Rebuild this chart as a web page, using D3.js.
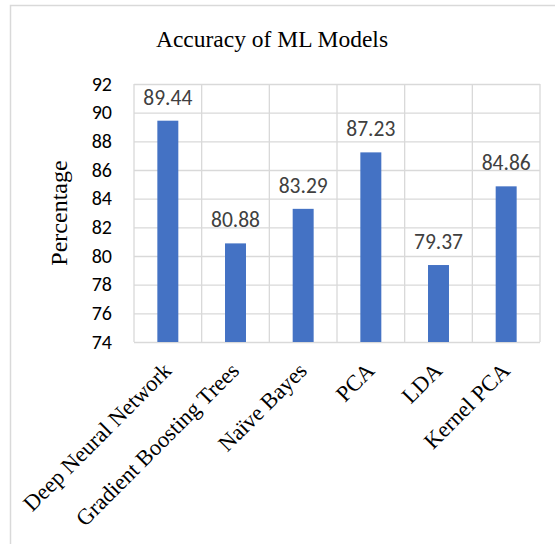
<!DOCTYPE html>
<html>
<head>
    <meta charset="utf-8">
    <title>Accuracy of ML Models</title>
    <script src="https://cdnjs.cloudflare.com/ajax/libs/d3/7.8.5/d3.min.js"></script>
    <style>
        body {
            margin: 0;
            background: #fff;
        }
        .grid line {
            stroke: #d9d9d9;
            stroke-width: 1.3;
        }
        .grid path {
            display: none;
        }
        .y-tick {
            font-family: Calibri, Carlito, "Liberation Sans", sans-serif;
            font-size: 20px;
            fill: #000;
        }
        .value-label {
            font-family: Calibri, Carlito, "Liberation Sans", sans-serif;
            font-size: 21.5px;
            fill: #404040;
        }
        .serif {
            font-family: "Times New Roman", "Liberation Serif", serif;
            fill: #000;
        }
    </style>
</head>
<body>
    <div id="chart"></div>

    <script>
        // Chart data
        const models = ["Deep Neural Network", "Gradient Boosting Trees", "Naïve Bayes", "PCA", "LDA", "Kernel PCA"];
        const accuracy = [89.44, 80.88, 83.29, 87.23, 79.37, 84.86];
        const yTicks = [74, 76, 78, 80, 82, 84, 86, 88, 90, 92];

        const W = 555, H = 544;
        const plot = { left: 134, right: 540, top: 84, bottom: 342 };

        const svg = d3.select('#chart')
            .append('svg')
            .attr('width', W)
            .attr('height', H);

        // chart border
        svg.append('rect')
            .attr('x', 10.5)
            .attr('y', 5.5)
            .attr('width', W)
            .attr('height', H)
            .attr('fill', 'none')
            .attr('stroke', '#d9d9d9')
            .attr('stroke-width', 1.5);

        const x = d3.scaleBand()
            .domain(models)
            .range([plot.left, plot.right])
            .padding(0);

        const y = d3.scaleLinear()
            .domain([74, 92])
            .range([plot.bottom, plot.top]);

        // horizontal grid
        svg.append('g')
            .attr('class', 'grid')
            .attr('transform', `translate(${plot.left},0)`)
            .call(d3.axisLeft(y).tickValues(yTicks).tickSize(-(plot.right - plot.left)).tickFormat(''));

        // vertical grid at category edges
        const edges = models.map(m => x(m)).concat([plot.right]);
        svg.append('g')
            .attr('class', 'grid')
            .selectAll('line')
            .data(edges)
            .enter()
            .append('line')
            .attr('x1', d => d)
            .attr('x2', d => d)
            .attr('y1', plot.top)
            .attr('y2', plot.bottom);

        // y tick labels
        svg.append('g')
            .selectAll('text')
            .data(yTicks)
            .enter()
            .append('text')
            .attr('class', 'y-tick')
            .attr('x', 112)
            .attr('y', d => y(d))
            .attr('dy', '0.34em')
            .attr('text-anchor', 'end')
            .text(d => d);

        // bars
        const barW = x.bandwidth() * 0.31;
        svg.append('g')
            .selectAll('rect')
            .data(models)
            .enter()
            .append('rect')
            .attr('x', (d, i) => x(d) + x.bandwidth() / 2 - barW / 2)
            .attr('y', (d, i) => y(accuracy[i]))
            .attr('width', barW)
            .attr('height', (d, i) => y(74) - y(accuracy[i]))
            .attr('fill', '#4472c4');

        // value labels
        svg.append('g')
            .selectAll('text')
            .data(models)
            .enter()
            .append('text')
            .attr('class', 'value-label')
            .attr('x', d => x(d) + x.bandwidth() / 2)
            .attr('y', (d, i) => y(accuracy[i]) - 16)
            .attr('text-anchor', 'middle')
            .text((d, i) => accuracy[i].toFixed(2));

        // category labels, rotated
        svg.append('g')
            .selectAll('text')
            .data(models)
            .enter()
            .append('text')
            .attr('class', 'serif')
            .style('font-size', '22.5px')
            .attr('text-anchor', 'end')
            .attr('transform', d => `translate(${x(d) + x.bandwidth() / 2 + 5},372) rotate(-45)`)
            .text(d => d);

        // title
        svg.append('text')
            .attr('class', 'serif')
            .attr('x', 272)
            .attr('y', 47)
            .attr('text-anchor', 'middle')
            .style('font-size', '23.5px')
            .text('Accuracy of ML Models');

        // y axis title
        svg.append('text')
            .attr('class', 'serif')
            .attr('transform', `translate(67,${(plot.top + plot.bottom) / 2}) rotate(-90)`)
            .attr('text-anchor', 'middle')
            .style('font-size', '24px')
            .text('Percentage');
    </script>
</body>
</html>
